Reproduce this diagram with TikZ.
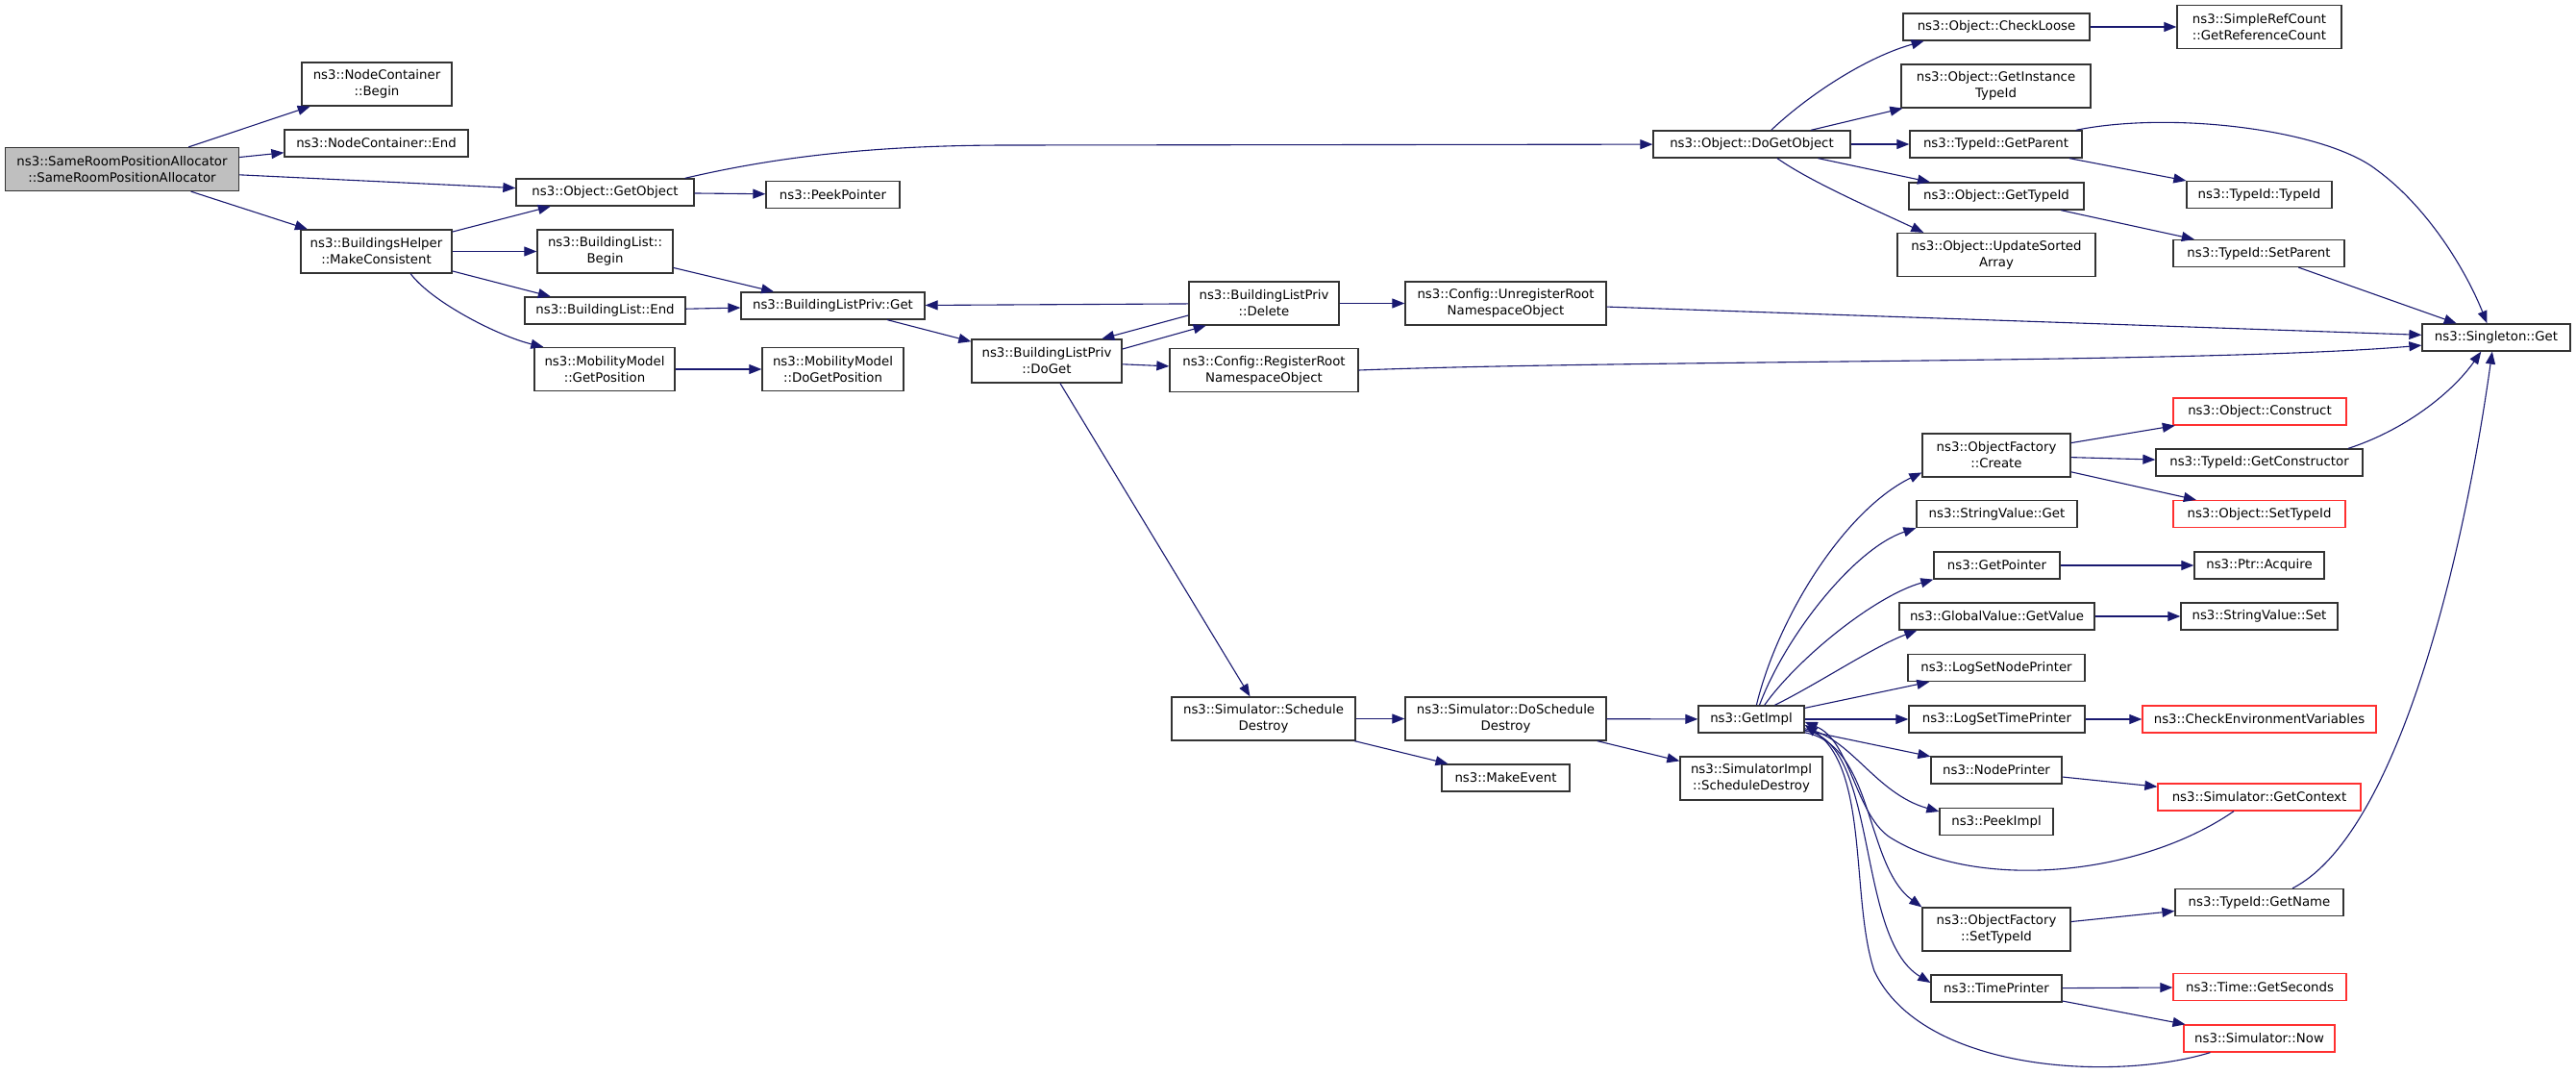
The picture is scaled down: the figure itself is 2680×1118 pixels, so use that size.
\documentclass[tikz,border=0pt]{standalone}
\usepackage{fontspec}
\newfontfamily\dejavu{DejaVu Sans}
\usepackage{xcolor}
\usepackage{tikz}
\usetikzlibrary{arrows.meta}
\definecolor{callblue}{HTML}{191970}
\definecolor{rootgray}{HTML}{BFBFBF}
\definecolor{boxred}{HTML}{FF3030}
\tikzset{
  fn/.style={draw=black!80, line width=1.3pt, fill=white, inner sep=0pt, align=center, font=\dejavu\fontsize{13.3}{17}\selectfont},
  fnred/.style={fn, draw=boxred},
  fnroot/.style={fn, fill=rootgray},
  one/.style={minimum height=28pt},
  two/.style={minimum height=45pt},
  wd/.style={minimum width=#1pt},
  call/.style={draw=callblue, line width=1.1pt, -{Triangle[length=13pt,width=10pt]}},
}
\begin{document}
\begin{tikzpicture}[x=1pt,y=-1pt]
        \useasboundingbox (0,0) rectangle (2680,1118);
        % left columns
        \node[fnroot, two, wd=243] (sra) at (127,176) {ns3::SameRoomPositionAllocator\\::SameRoomPositionAllocator};
        \node[fn, two, wd=156] (ncb) at (392,87.5) {ns3::NodeContainer\\::Begin};
        \node[fn, one, wd=191] (nce) at (391.5,149) {ns3::NodeContainer::End};
        \node[fn, two, wd=157] (mkcons) at (391.5,261.5) {ns3::BuildingsHelper\\::MakeConsistent};
        \node[fn, one, wd=185] (getobj) at (629.5,200) {ns3::Object::GetObject};
        \node[fn, two, wd=141] (blbegin) at (629.5,261.5) {ns3::BuildingList::\\Begin};
        \node[fn, one, wd=167] (blend) at (629.5,323) {ns3::BuildingList::End};
        \node[fn, two, wd=146] (mmgp) at (629,384) {ns3::MobilityModel\\::GetPosition};
        \node[fn, one, wd=139] (peek) at (866.5,202.5) {ns3::PeekPointer};
        \node[fn, one, wd=191] (blpget) at (866.5,318) {ns3::BuildingListPriv::Get};
        \node[fn, two, wd=147] (mmdgp) at (866.5,384) {ns3::MobilityModel\\::DoGetPosition};
        % middle columns
        \node[fn, two, wd=156] (doget) at (1089,375.5) {ns3::BuildingListPriv\\::DoGet};
        \node[fn, two, wd=156] (delete) at (1315,315.5) {ns3::BuildingListPriv\\::Delete};
        \node[fn, two, wd=196] (reg) at (1315,385) {ns3::Config::RegisterRoot\\NamespaceObject};
        \node[fn, two, wd=191] (schd) at (1314.5,747.5) {ns3::Simulator::Schedule\\Destroy};
        \node[fn, two, wd=209] (unreg) at (1566.5,315.5) {ns3::Config::UnregisterRoot\\NamespaceObject};
        \node[fn, two, wd=209] (doschd) at (1566.5,747.5) {ns3::Simulator::DoSchedule\\Destroy};
        \node[fn, one, wd=133] (mkevent) at (1566.5,809) {ns3::MakeEvent};
        \node[fn, one, wd=205] (dogetobj) at (1822.5,150) {ns3::Object::DoGetObject};
        \node[fn, one, wd=110] (getimpl) at (1822,748) {ns3::GetImpl};
        \node[fn, two, wd=148] (simimpl) at (1822,809.5) {ns3::SimulatorImpl\\::ScheduleDestroy};
        % right columns
        \node[fn, one, wd=194] (checkloose) at (2077,28) {ns3::Object::CheckLoose};
        \node[fn, two, wd=197] (insttid) at (2076.5,89.5) {ns3::Object::GetInstance\\TypeId};
        \node[fn, one, wd=179] (getparent) at (2076.5,150) {ns3::TypeId::GetParent};
        \node[fn, one, wd=182] (gettid) at (2077,204) {ns3::Object::GetTypeId};
        \node[fn, two, wd=206] (updsorted) at (2077,265) {ns3::Object::UpdateSorted\\Array};
        \node[fn, two, wd=154] (create) at (2077,473.5) {ns3::ObjectFactory\\::Create};
        \node[fn, one, wd=167] (svget) at (2077.5,534.5) {ns3::StringValue::Get};
        \node[fn, one, wd=131] (getptr) at (2077.5,588) {ns3::GetPointer};
        \node[fn, one, wd=203] (gvget) at (2077.5,641) {ns3::GlobalValue::GetValue};
        \node[fn, one, wd=184] (lognode) at (2077,694.5) {ns3::LogSetNodePrinter};
        \node[fn, one, wd=183] (logtime) at (2077.5,748) {ns3::LogSetTimePrinter};
        \node[fn, one, wd=136] (nodeprinter) at (2077,801) {ns3::NodePrinter};
        \node[fn, one, wd=118] (peekimpl) at (2077,854.5) {ns3::PeekImpl};
        \node[fn, two, wd=154] (ofsettid) at (2077,966.5) {ns3::ObjectFactory\\::SetTypeId};
        \node[fn, one, wd=136] (timeprinter) at (2077,1028) {ns3::TimePrinter};
        \node[fn, two, wd=171] (refcount) at (2350.5,28) {ns3::SimpleRefCount\\::GetReferenceCount};
        \node[fn, one, wd=151] (tidtid) at (2350.5,202.5) {ns3::TypeId::TypeId};
        \node[fn, one, wd=178] (setparent) at (2350,263.5) {ns3::TypeId::SetParent};
        \node[fnred, one, wd=180] (construct) at (2351,428) {ns3::Object::Construct};
        \node[fn, one, wd=215] (getctor) at (2350.5,481) {ns3::TypeId::GetConstructor};
        \node[fnred, one, wd=179] (osettid) at (2350.5,534.5) {ns3::Object::SetTypeId};
        \node[fn, one, wd=135] (acquire) at (2350.5,588) {ns3::Ptr::Acquire};
        \node[fn, one, wd=163] (svset) at (2350.5,641) {ns3::StringValue::Set};
        \node[fnred, one, wd=243] (checkenv) at (2350.5,748) {ns3::CheckEnvironmentVariables};
        \node[fnred, one, wd=211] (getctx) at (2350.5,829) {ns3::Simulator::GetContext};
        \node[fn, one, wd=175] (getname) at (2350.5,938.5) {ns3::TypeId::GetName};
        \node[fnred, one, wd=180] (getsec) at (2351,1026.5) {ns3::Time::GetSeconds};
        \node[fnred, one, wd=157] (now) at (2350.5,1080) {ns3::Simulator::Now};
        \node[fn, one, wd=154] (singleton) at (2597,351) {ns3::Singleton::Get};
        % calls, left part
        \draw[call] (sra) -- (ncb);
        \draw[call] (sra) -- (nce);
        \draw[call] (sra) -- (getobj);
        \draw[call] (sra) -- (mkcons);
        \draw[call] (mkcons) -- (getobj);
        \draw[call] (mkcons) -- (blbegin);
        \draw[call] (mkcons) -- (blend);
        \draw[call] (mkcons.-33) .. controls (450,315) and (520,350) .. (mmgp.160);
        \draw[call] (getobj) -- (peek);
        \draw[call] (getobj.10) .. controls (800,165) and (900,151) .. (1050,151) -- (dogetobj);
        \draw[call] (blbegin) -- (blpget);
        \draw[call] (blend) -- (blpget);
        \draw[call] (mmgp) -- (mmdgp);
        \draw[call] (blpget) -- (doget);
        \draw[call] (delete) -- (blpget);
        \draw[call] (delete.189) -- (doget.22);
        \draw[call] (doget.9) -- (delete.201);
        \draw[call] (delete) -- (unreg);
        \draw[call] (doget) -- (reg);
        \draw[call] (doget) -- (schd);
        \draw[call] (unreg) -- (singleton);
        \draw[call] (reg.east) .. controls (1700,374) and (2300,378) .. (singleton.186);
        % calls of DoGetObject
        \draw[call] (dogetobj.36) .. controls (1880,100) and (1940,60) .. (checkloose.191);
        \draw[call] (dogetobj) -- (insttid);
        \draw[call] (dogetobj) -- (getparent);
        \draw[call] (dogetobj) -- (gettid);
        \draw[call] (dogetobj.-29) .. controls (1885,190) and (1955,220) .. (updsorted.163);
        \draw[call] (checkloose) -- (refcount);
        \draw[call] (getparent) -- (tidtid);
        \draw[call] (getparent.10) .. controls (2260,115) and (2420,135) .. (2473,177) .. controls (2525,215) and (2565,280) .. (singleton.123);
        \draw[call] (gettid) -- (setparent);
        \draw[call] (setparent) -- (singleton);
        % calls, lower part
        \draw[call] (schd) -- (doschd);
        \draw[call] (schd) -- (mkevent);
        \draw[call] (doschd) -- (getimpl);
        \draw[call] (doschd) -- (simimpl);
        \draw[call] (getimpl.70) .. controls (1850,640) and (1920,530) .. (create.193);
        \draw[call] (getimpl.60) .. controls (1858,660) and (1930,570) .. (svget.south west);
        \draw[call] (getimpl.47) .. controls (1870,685) and (1950,620) .. (getptr.south west);
        \draw[call] (getimpl.31) .. controls (1890,712) and (1950,672) .. (gvget.190);
        \draw[call] (getimpl) -- (lognode);
        \draw[call] (getimpl) -- (logtime);
        \draw[call] (getimpl) -- (nodeprinter);
        \draw[call] (getimpl.-10) .. controls (1925,765) and (1950,825) .. (peekimpl.170);
        \draw[call] (getimpl.-14) .. controls (1950,775) and (1940,900) .. (ofsettid.north west);
        \draw[call] (getimpl.-12) .. controls (1955,770) and (1930,975) .. (timeprinter.175);
        \draw[call] (getctx.209) .. controls (2220,915) and (2050,925) .. (1965,870) .. controls (1930,845) and (1925,770) .. (getimpl.-3);
        \draw[call] (now.196) .. controls (2200,1125) and (2000,1115) .. (1950,1010) .. controls (1925,935) and (1945,800) .. (getimpl.-6);
        \draw[call] (create) -- (construct);
        \draw[call] (create) -- (getctor);
        \draw[call] (create) -- (osettid);
        \draw[call] (getctor.9) .. controls (2500,448) and (2550,410) .. (singleton.223);
        \draw[call] (getptr) -- (acquire);
        \draw[call] (gvget) -- (svset);
        \draw[call] (logtime) -- (checkenv);
        \draw[call] (nodeprinter) -- (getctx);
        \draw[call] (ofsettid) -- (getname);
        \draw[call] (getname.23) .. controls (2490,870) and (2560,600) .. (singleton.-106);
        \draw[call] (timeprinter) -- (getsec);
        \draw[call] (timeprinter) -- (now);
\end{tikzpicture}
\end{document}
